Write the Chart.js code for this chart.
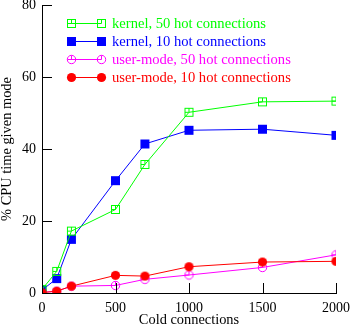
<!DOCTYPE html>
<html>
<head>
<meta charset="utf-8">
<script src="https://cdn.jsdelivr.net/npm/chart.js@4"></script>
<style>
  html, body { margin: 0; padding: 0; background: #fff; }
  #wrap { width: 350px; height: 325px; }
</style>
</head>
<body>
<div id="wrap"><canvas id="cpuChart" width="350" height="325"></canvas></div>
<script>
const coldConnections = [0, 100, 200, 500, 700, 1000, 1500, 2000];
const kernel50 = [1.0, 6.0, 17.2, 23.2, 35.7, 50.2, 53.1, 53.3];
const kernel10 = [0.8, 4.0, 14.9, 31.2, 41.4, 45.2, 45.5, 43.8];
const user50 = [0.2, 0.5, 1.9, 2.1, 3.8, 5.0, 7.1, 10.6];
const user10 = [0.1, 0.5, 1.9, 4.9, 4.7, 7.3, 8.6, 8.8];
const xTicks = [0, 500, 1000, 1500, 2000];
const yTicks = [0, 20, 40, 60, 80];

const FONT = "'Liberation Serif', serif";

// gnuplot-style markers: outline with a small inner corner mark
function makeMarker(kind, color) {
    const c = document.createElement('canvas');
    c.width = 11; c.height = 11;
    const g = c.getContext('2d');
    g.strokeStyle = color;
    g.fillStyle = color;
    g.lineWidth = 1;
    if (kind === 'openSquare') {
        g.strokeRect(1.5, 1.5, 8, 8);
        g.beginPath();
        g.moveTo(5.5, 1.5); g.lineTo(5.5, 5.5); g.lineTo(1.5, 5.5);
        g.stroke();
    } else if (kind === 'fillSquare') {
        g.fillRect(1, 1, 9, 9);
    } else if (kind === 'openCircle') {
        g.beginPath(); g.arc(5.5, 5.5, 4.2, 0, Math.PI * 2); g.stroke();
        g.beginPath();
        g.moveTo(5.5, 1.5); g.lineTo(5.5, 5.5); g.lineTo(1.5, 5.5);
        g.stroke();
    } else {
        g.beginPath(); g.arc(5.5, 5.5, 4.6, 0, Math.PI * 2); g.fill();
    }
    return c;
}

// order: lower numbers are painted on top
const series = [
    { label: 'kernel, 50 hot connections', values: kernel50, color: '#00ff00', marker: 'openSquare', order: 1 },
    { label: 'kernel, 10 hot connections', values: kernel10, color: '#0000ff', marker: 'fillSquare', order: 2 },
    { label: 'user-mode, 50 hot connections', values: user50, color: '#ff00ff', marker: 'openCircle', order: 3 },
    { label: 'user-mode, 10 hot connections', values: user10, color: '#ff0000', marker: 'fillCircle', order: 0 }
];
series.forEach(s => { s.img = makeMarker(s.marker, s.color); });

// legend: line with a marker at each end, text in the series colour
const keyPlugin = {
    id: 'key',
    afterDraw(chart) {
        const { ctx, chartArea } = chart;
        const font = Chart.helpers.toFont({ family: FONT, size: 14.6 });
        series.forEach((s, i) => {
            const y = chartArea.top + 18 + i * 18;
            const x0 = chartArea.left + 29;
            const x1 = chartArea.left + 59;
            ctx.save();
            ctx.strokeStyle = s.color;
            ctx.lineWidth = 1;
            ctx.beginPath();
            ctx.moveTo(x0, y + 0.5); ctx.lineTo(x1, y + 0.5);
            ctx.stroke();
            ctx.drawImage(s.img, x0 - 5, y - 5);
            ctx.drawImage(s.img, x1 - 5, y - 5);
            ctx.restore();
            Chart.helpers.renderText(ctx, s.label, chartArea.left + 70, y + 1, font, {
                color: s.color,
                textAlign: 'left',
                textBaseline: 'middle'
            });
        });
    }
};

// tick marks drawn inward from the axes
const innerTicks = {
    id: 'innerTicks',
    afterDraw(chart) {
        const { ctx, chartArea, scales } = chart;
        ctx.save();
        ctx.strokeStyle = '#000';
        ctx.lineWidth = 1;
        ctx.beginPath();
        yTicks.forEach(v => {
            const y = Math.round(scales.y.getPixelForValue(v)) + 0.5;
            ctx.moveTo(chartArea.left, y); ctx.lineTo(chartArea.left + 10, y);
        });
        xTicks.forEach(v => {
            const x = Math.round(scales.x.getPixelForValue(v)) + 0.5;
            ctx.moveTo(x, chartArea.bottom); ctx.lineTo(x, chartArea.bottom - 10);
        });
        ctx.stroke();
        ctx.restore();
    }
};

new Chart(document.getElementById('cpuChart'), {
    type: 'line',
    data: {
        datasets: series.map(s => ({
            label: s.label,
            data: coldConnections.map((x, i) => ({ x: x, y: s.values[i] })),
            borderColor: s.color,
            backgroundColor: s.color,
            borderWidth: 1,
            pointStyle: s.img,
            order: s.order,
            tension: 0
        }))
    },
    options: {
        responsive: false,
        animation: false,
        events: [],
        layout: { padding: { top: 5, right: 14, left: 0, bottom: 0 } },
        plugins: {
            legend: { display: false },
            tooltip: { enabled: false }
        },
        scales: {
            x: {
                type: 'linear',
                min: 0,
                max: 2000,
                afterBuildTicks: scale => { scale.ticks = xTicks.map(v => ({ value: v })); },
                afterFit: scale => {
                    scale.height = 32;
                    scale.paddingLeft = 0;
                    scale.paddingRight = 0;
                },
                grid: { display: false, drawTicks: false },
                border: { display: true, color: '#000', width: 1 },
                ticks: {
                    color: '#000',
                    padding: 7,
                    maxRotation: 0,
                    font: { family: FONT, size: 14 },
                    callback: v => String(v)
                },
                title: {
                    display: true,
                    text: 'Cold connections',
                    color: '#000',
                    padding: { top: 0, bottom: -4 },
                    font: { family: FONT, size: 14.4 }
                }
            },
            y: {
                min: 0,
                max: 80,
                afterBuildTicks: scale => { scale.ticks = yTicks.map(v => ({ value: v })); },
                afterFit: scale => {
                    scale.width = 42;
                    scale.paddingTop = 0;
                    scale.paddingBottom = 0;
                },
                grid: { display: false, drawTicks: false },
                border: { display: true, color: '#000', width: 1 },
                ticks: { color: '#000', padding: 6, font: { family: FONT, size: 14 } },
                title: {
                    display: true,
                    text: '% CPU time given mode',
                    color: '#000',
                    padding: { top: -1, bottom: 0 },
                    font: { family: FONT, size: 14.4 }
                }
            }
        }
    },
    plugins: [keyPlugin, innerTicks]
});
</script>
</body>
</html>
